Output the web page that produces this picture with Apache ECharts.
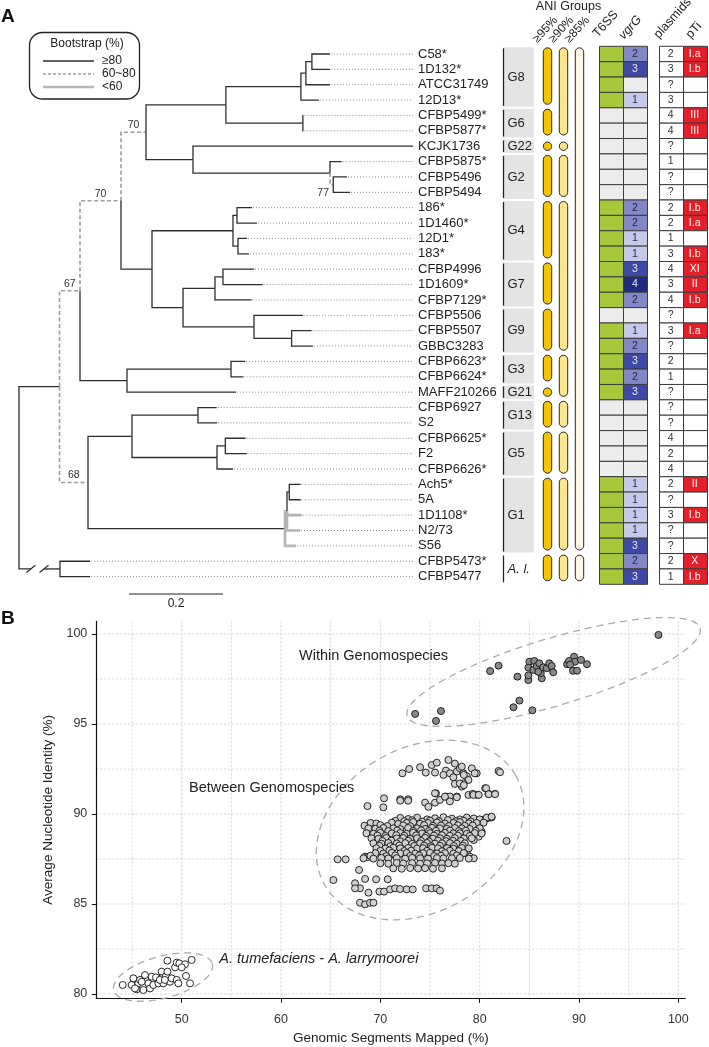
<!DOCTYPE html>
<html><head><meta charset="utf-8">
<script src="https://cdn.jsdelivr.net/npm/echarts@6/dist/echarts.min.js"></script>
<style>html,body{margin:0;padding:0;background:#fff}#c{width:709px;height:1047px}</style>
</head><body><div id="c"></div>
<script>
// ---------------- DATA ----------------
const strains = ['C58*','1D132*','ATCC31749','12D13*','CFBP5499*','CFBP5877*','KCJK1736','CFBP5875*','CFBP5496','CFBP5494','186*','1D1460*','12D1*','183*','CFBP4996','1D1609*','CFBP7129*','CFBP5506','CFBP5507','GBBC3283','CFBP6623*','CFBP6624*','MAFF210266','CFBP6927','S2','CFBP6625*','F2','CFBP6626*','Ach5*','5A','1D1108*','N2/73','S56','CFBP5473*','CFBP5477'];
const t6ss = [1,1,1,1,0,0,0,0,0,0,1,1,1,1,1,1,1,0,1,1,1,1,1,0,0,0,0,0,1,1,1,1,1,1,1];
const vgrG = [2,3,0,1,0,0,0,0,0,0,2,2,1,1,3,4,2,0,1,2,3,2,3,0,0,0,0,0,1,1,1,1,3,2,3];
const plasmids = ['2','3','?','3','4','4','?','1','?','?','2','2','1','3','4','3','4','?','3','?','2','1','?','?','?','4','2','4','2','?','3','?','?','2','1'];
const pTi = ['I.a','I.b','','','III','III','','','','','I.b','I.a','','I.b','XI','II','I.b','','I.a','','','','','','','','','','II','','I.b','','','X','I.b'];
const groups = [['G8',0,3],['G6',4,5],['G22',6,6],['G2',7,9],['G4',10,13],['G7',14,16],['G9',17,19],['G3',20,21],['G21',22,22],['G13',23,24],['G5',25,27],['G1',28,32],['A. l.',33,34]];
const ani95 = [[0,3],[4,5],[6,6],[7,9],[10,13],[14,16],[17,19],[20,21],[22,22],[23,24],[25,27],[28,32],[33,34]];
const ani90 = [[0,5],[6,6],[7,9],[10,19],[20,22],[23,24],[25,27],[28,32],[33,34]];
const ani85 = [[0,32],[33,34]];
const aniCols = ['≥95%','≥90%','≥85%'];
const tableCols1 = ['T6SS','vgrG'];
const tableCols2 = ['plasmids','pTi'];
// tree: l = branch length (substitutions/site), s = bootstrap support (undefined = >=80)
const tree = {c:[
  {l:0.0862, c:[
    {l:0.0436, s:67, c:[
      {l:0.0872, s:70, c:[
        {l:0.0532, s:70, c:[
          {l:0.170, c:[
            {l:0.1596, c:[
              {l:0.0106, c:[
                {l:0.0128, c:[{n:'C58*',l:0.0383},{n:'1D132*',l:0.0383}]},
                {n:'ATCC31749',l:0.0511}]},
              {n:'12D13*',l:0.0383}]},
            {l:0.1638, c:[{n:'CFBP5499*',l:0.001},{n:'CFBP5877*',l:0.001}]}]},
          {l:0.1, c:[
            {n:'KCJK1736',l:0.468},
            {l:0.2915, c:[
              {n:'CFBP5875*',l:0.0249},
              {l:0.007, s:77, c:[{n:'CFBP5496',l:0.0291},{n:'CFBP5494',l:0.0355}]}]}]}]},
        {l:0.066, c:[
          {l:0.1723, c:[
            {l:0.0085, c:[{n:'186*',l:0.0319},{n:'1D1460*',l:0.0426}]},
            {l:0.0106, c:[{n:'12D1*',l:0.0191},{n:'183*',l:0.0234}]}]},
          {l:0.066, c:[
            {l:0.068, c:[
              {l:0.017, c:[{n:'CFBP4996',l:0.066},{n:'1D1609*',l:0.0845}]},
              {n:'CFBP7129*',l:0.078}]},
            {l:0.151, c:[
              {n:'CFBP5506',l:0.104},
              {l:0.080, c:[{n:'CFBP5507',l:0.0426},{n:'GBBC3283',l:0.0453}]}]}]}]}]},
      {l:0.1, c:[
        {l:0.2213, c:[{n:'CFBP6623*',l:0.0298},{n:'CFBP6624*',l:0.0262}]},
        {n:'MAFF210266',l:0.2319}]}]},
    {l:0.0606, s:68, c:[
      {l:0.0936, c:[
        {l:0.1404, c:[{n:'CFBP6927',l:0.0398},{n:'S2',l:0.0411}]},
        {l:0.1809, c:[
          {l:0.0177, c:[{n:'CFBP6625*',l:0.043},{n:'F2',l:0.0455}]},
          {n:'CFBP6626*',l:0.034}]}]},
      {l:0.4191, c:[
        {l:0.0043, s:'<60', c:[
          {l:0.0049, c:[{n:'Ach5*',l:0.0243},{n:'5A',l:0.0243}]},
          {n:'1D1108*',l:0.0313,s:'<60'},
          {n:'N2/73',l:0.0277,s:'<60'}]},
        {n:'S56',l:0.0234,s:'<60'}]}]}]},
  {l:0.0872, broken:true, c:[{n:'CFBP5473*',l:0.0638},{n:'CFBP5477',l:0.0638}]}
]};
const scaleBar = [[0.234, 35.13, 0.2]];

// Panel B
const withinGS = [[73.5,95.56],[75.6,95.17],[76.1,95.72],[81.05,97.94],[81.9,98.24],[83.4,95.93],[84.0,96.3],[85.3,95.76],[83.8,97.63],[84.9,97.44],[84.9,97.7],[85.0,98.46],[85.5,98.5],[84.9,98.13],[85.4,98.0],[85.75,98.22],[86.0,98.37],[86.25,97.54],[86.15,97.82],[85.9,97.9],[86.4,98.15],[86.75,98.1],[87.0,98.37],[87.25,98.22],[87.4,97.87],[88.8,98.32],[89.0,98.5],[89.5,98.74],[89.6,98.46],[89.4,97.96],[89.8,97.96],[90.2,98.56],[90.8,98.32],[89.1,98.3],[98.0,99.95]];
const betweenSparse = [[72.22,92.26],[72.9,92.5],[74.0,92.6],[74.57,92.3],[75.17,92.72],[75.68,92.85],[75.5,92.3],[76.85,93.0],[77.5,92.8],[76.6,92.41],[76.35,92.17],[77.0,92.26],[77.35,92.04],[77.7,92.36],[78.0,92.54],[78.36,92.26],[78.7,92.1],[79.2,92.54],[79.7,92.26],[78.87,91.89],[77.5,91.67],[78.36,91.7],[78.2,91.52],[81.9,92.39],[82.05,92.32],[80.55,91.43],[80.88,91.12],[81.55,91.12],[75.6,91.15],[76.6,90.97],[77.0,90.97],[77.7,90.97],[78.87,91.06],[79.3,91.12],[79.77,91.06],[70.37,90.87],[72.0,90.82],[72.8,90.82],[78.2,92.63],[78.4,92.17],[78.0,91.7],[78.4,91.6],[79.5,92.26],
 [68.7,90.44],[70.3,90.37],[72.0,90.74],[72.8,90.74],[74.5,90.63],[74.84,90.4],[75.5,90.63],[75.5,91.15],[76.0,90.78],[76.5,90.96],[77.0,90.7],[77.7,90.93],[79.37,91.06],[79.9,91.06],[80.65,91.43],[80.9,91.1],[81.55,91.1],[82.7,88.5],[81.0,89.8],[80.3,89.67],
 [65.7,87.48],[66.5,87.48],[65.27,86.33],[67.85,86.89],[68.46,87.63],[68.7,87.6],[67.45,86.15],[67.95,85.87],[67.45,85.87],[68.8,85.63],[68.46,86.39],[69.57,86.37],[70.74,86.37],[69.9,85.69],[70.37,85.69],[70.98,85.81],[71.48,85.87],[71.98,85.83],[72.65,85.81],[73.26,85.81],[74.6,85.87],[75.17,85.87],[75.67,85.87],[76.0,85.74],[67.95,85.07],[68.46,84.98],[68.96,85.07],[69.3,85.07],
 [79.4,89.57],[80.0,89.48],[80.2,89.02],[79.9,88.74],[79.4,88.55],[78.7,87.81],[79.0,87.63],[79.4,87.54],[80.7,89.76],[81.2,89.81]];
const betweenCore = [[72.0,89.78],[72.8,89.72],[73.7,89.8],[74.7,89.7],[75.5,89.76],[76.35,89.82],[77.2,89.74],[78.0,89.7],[78.7,89.8],[79.4,89.75],[80.0,89.7],[80.7,89.8],[81.2,89.85],
 [71.5,89.62],[72.4,89.6],[73.2,89.65],[74.2,89.58],[75.0,89.63],[75.9,89.6],[76.8,89.66],[77.6,89.6],[78.4,89.62],[79.1,89.58],
 [69.0,89.5],[69.6,89.47],[71.15,89.52],[71.8,89.45],[72.65,89.5],[73.3,89.55],[74.0,89.46],[74.8,89.5],[75.7,89.53],[76.5,89.47],[77.35,89.5],[78.0,89.55],[78.9,89.48],[79.7,89.5],[80.4,89.52],
 [68.4,89.35],[70.0,89.38],[70.7,89.33],[72.3,89.36],[73.0,89.32],[74.4,89.38],[75.3,89.34],[76.1,89.36],[76.9,89.33],[77.8,89.37],[78.5,89.34],[79.3,89.36],
 [68.8,89.2],[69.5,89.18],[70.3,89.22],[71.3,89.2],[72.0,89.16],[72.8,89.22],[73.7,89.2],[74.5,89.17],[75.2,89.23],[76.0,89.2],[76.7,89.18],[77.5,89.22],[78.2,89.2],[79.0,89.17],[80.0,89.21],
 [69.9,89.07],[70.8,89.05],[71.7,89.08],[73.3,89.06],[74.1,89.09],[74.9,89.05],[75.6,89.07],[77.0,89.08],[77.9,89.05],[78.6,89.07],[79.6,89.06],
 [68.6,88.93],[69.3,88.9],[70.0,88.95],[71.15,88.92],[72.0,88.94],[72.65,88.9],[73.3,88.96],[74.2,88.92],[75.0,88.93],[75.7,88.9],[76.5,88.95],[77.35,88.92],[78.0,88.93],[78.7,88.9],[79.5,88.94],[80.2,88.92],
 [69.7,88.8],[70.5,88.78],[71.6,88.82],[72.4,88.79],[73.6,88.81],[74.6,88.78],[75.4,88.8],[76.2,88.82],[77.0,88.79],[77.8,88.8],[79.0,88.78],
 [69.1,88.65],[69.8,88.62],[70.6,88.67],[71.65,88.64],[72.3,88.66],[73.0,88.62],[73.7,88.65],[74.5,88.67],[75.3,88.63],[76.0,88.65],[76.7,88.62],[77.5,88.66],[78.4,88.64],[79.2,88.65],
 [70.2,88.5],[71.1,88.52],[72.0,88.48],[72.8,88.51],[74.1,88.5],[74.9,88.48],[75.8,88.52],[76.6,88.49],[77.3,88.51],[78.1,88.5],
 [69.3,88.37],[70.1,88.35],[70.8,88.39],[71.65,88.36],[72.5,88.38],[73.2,88.34],[74.0,88.37],[74.7,88.39],[75.5,88.35],[76.2,88.37],[77.0,88.38],[77.7,88.35],[78.5,88.37],
 [69.9,88.23],[71.0,88.21],[71.9,88.25],[73.4,88.22],[74.4,88.24],[75.1,88.21],[76.0,88.23],[77.4,88.22],[78.3,88.24],
 [69.6,88.1],[70.5,88.08],[71.3,88.12],[72.0,88.09],[72.8,88.11],[73.7,88.08],[74.3,88.1],[75.2,88.12],[75.8,88.09],[76.7,88.1],[77.35,88.07],[78.2,88.11],[78.9,88.09],
 [70.0,87.95],[70.9,87.97],[72.4,87.94],[73.1,87.96],[74.7,87.95],[76.2,87.93],[77.0,87.96],[77.9,87.94],
 [69.5,87.82],[70.3,87.8],[71.15,87.84],[72.0,87.81],[72.65,87.83],[73.5,87.8],[74.3,87.82],[75.0,87.84],[75.7,87.81],[76.5,87.82],[77.35,87.8],[78.4,87.83],
 [69.0,87.68],[70.6,87.66],[71.5,87.7],[73.0,87.67],[73.9,87.69],[75.4,87.66],[76.1,87.68],[77.7,87.7],
 [68.3,87.54],[69.3,87.52],[70.1,87.56],[70.8,87.53],[71.65,87.55],[72.5,87.52],[73.2,87.56],[74.0,87.54],[74.8,87.52],[75.7,87.55],[76.35,87.53],[77.2,87.54],[78.0,87.56],[78.9,87.52],
 [70.0,87.26],[70.8,87.24],[71.65,87.28],[72.3,87.25],[73.2,87.27],[74.0,87.24],[74.7,87.26],[75.5,87.28],[76.2,87.25],[76.85,87.27],[77.5,87.24],
 [71.3,86.98],[72.15,86.96],[73.0,87.0],[73.8,86.97],[74.5,86.99],[75.3,86.96],[76.2,86.98]];
const tumLar = [[44.06,80.5],[44.96,80.5],[45.13,80.87],[45.47,80.26],[45.63,80.59],[46.14,80.22],[46.3,80.87],[46.3,81.05],[46.64,80.59],[46.81,80.31],[46.98,80.96],[47.14,80.5],[47.41,80.92],[47.65,80.59],[47.98,81.24],[47.98,80.87],[48.15,80.59],[48.42,81.0],[48.56,81.24],[48.56,81.85],[48.82,80.68],[48.99,80.87],[49.33,81.48],[49.5,81.74],[49.5,80.78],[49.76,81.7],[49.66,80.59],[50.33,81.65],[50.43,81.0],[50.84,80.59],[51.0,81.89],[50.0,81.48],[45.8,80.78],[45.3,80.31],[45.97,80.68],[47.8,80.78],[48.3,80.78]];
// ellipses: centre, end of major axis (data units), minor/major ratio
const ellipses = [[[87.44,97.89],[102.19,100.33],0.22],[[74.0,89.11],[83.6,92.17],0.745],[[48.12,80.94],[53.08,81.68],0.41]];
const annotations = [[61.81,98.78,'Within Genomospecies',0],[50.73,91.44,'Between Genomospecies',0],[53.79,81.93,'A. tumefaciens - A. larrymoorei',1]];
const xTicks = [50,60,70,80,90,100];
const yTicks = [80,85,90,95,100];
const xGrid = [45,50,55,60,65,70,75,80,85,90,95,100];
const yGrid = [80,82.5,85,87.5,90,92.5,95,97.5,100];

// ---------------- LAYOUT ----------------
const FONT = '"Liberation Sans", Arial, sans-serif';
const PXU = 470;            // px per tree unit
const TREE_L = 19, LABEL_X = 418;
const ROW_TOP = 46.3, ROW_H = 538;
const SX = [41.4, 100.7], SY = [79.76, 100.7];

// tree layout
const leaves = [], segs = [];
(function lay(node, x){
  node.x = x;
  if (node.n){ node.y = leaves.length; leaves.push(node); return; }
  node.c.forEach(ch => lay(ch, x + ch.l));
  node.y = (node.c[0].y + node.c[node.c.length-1].y)/2;
})(tree, 0);
(function col(node){ if(node.c) node.c.forEach(ch => { segs.push({x0:node.x,y0:node.y,x1:ch.x,y1:ch.y,s:ch.s,broken:ch.broken}); col(ch); }); })(tree);

function brStyle(s){
  if (s === '<60') return {stroke:'#b5b5b5', lineWidth:2.6, fill:null};
  if (typeof s === 'number' && s < 80) return {stroke:'#9e9e9e', lineWidth:1.6, lineDash:[4,2.5], fill:null};
  return {stroke:'#2e2e2e', lineWidth:1.3, fill:null};
}

const chart = echarts.init(document.getElementById('c'), null, {renderer:'canvas', width:709, height:1047});
const hidY = i => ({gridIndex:i, type:'value', min:-0.5, max:34.5, inverse:true, show:false});

const aniData = [];
[ani95, ani90, ani85].forEach((arr, ci) => arr.forEach(r => aniData.push([ci, r[0], r[1]])));
const cells1 = [], cells2 = [];
strains.forEach((s, i) => { cells1.push([0,i],[1,i]); cells2.push([0,i],[1,i]); });
const vgColors = ['#ececec','#c6c9e9','#8288c5','#3e49a6','#1f2a80'];
const vgText = ['','#2a2a4a','#1c1f4a','#e8e8f4','#e8e8f4'];

const option = {
  animation:false,
  backgroundColor:'#fff',
  textStyle:{fontFamily:FONT},
  grid:[
    {left:TREE_L, top:ROW_TOP, width:LABEL_X-TREE_L, height:ROW_H},
    {left:539.5, top:ROW_TOP, width:48, height:ROW_H},
    {left:599, top:ROW_TOP, width:48, height:ROW_H},
    {left:658.7, top:ROW_TOP, width:48, height:ROW_H},
    {left:96.3, top:621.4, width:589, height:376.9}
  ],
  xAxis:[
    {gridIndex:0, type:'value', min:0, max:(LABEL_X-TREE_L)/PXU, show:false},
    {gridIndex:1, type:'category', data:aniCols, show:false},
    {gridIndex:2, type:'category', data:tableCols1, show:false},
    {gridIndex:3, type:'category', data:tableCols2, show:false},
    {gridIndex:4, type:'value', min:SX[0], max:SX[1],
     axisLine:{show:true, onZero:false, lineStyle:{color:'#111', width:1.2}},
     axisTick:{show:true, length:4.5, customValues:xTicks, lineStyle:{color:'#111'}},
     axisLabel:{customValues:xTicks, fontSize:12.5, color:'#333', margin:15, fontFamily:FONT},
     splitLine:{show:false},
     name:'Genomic Segments Mapped (%)', nameLocation:'middle', nameGap:33,
     nameTextStyle:{fontSize:13.5, color:'#222', fontFamily:FONT}}
  ],
  yAxis:[
    hidY(0), hidY(1), hidY(2), hidY(3),
    {gridIndex:4, type:'value', min:SY[0], max:SY[1],
     axisLine:{show:true, onZero:false, lineStyle:{color:'#111', width:1.2}},
     axisTick:{show:true, length:4.5, customValues:yTicks, lineStyle:{color:'#111'}},
     axisLabel:{customValues:yTicks, fontSize:12.5, color:'#333', margin:9, fontFamily:FONT},
     splitLine:{show:false},
     name:'Average Nucleotide Identity (%)', nameLocation:'middle', nameGap:28,
     nameTextStyle:{fontSize:13.5, color:'#222', fontFamily:FONT}}
  ],
  series:[
    // tree branches
    {type:'custom', xAxisIndex:0, yAxisIndex:0, silent:true, z:3,
     data:segs.map(s=>[s.x0,s.y0,s.x1,s.y1]),
     renderItem(params, api){
       const sg = segs[params.dataIndex];
       const p0 = api.coord([sg.x0, sg.y0]), pm = api.coord([sg.x0, sg.y1]), p1 = api.coord([sg.x1, sg.y1]);
       const st = brStyle(sg.s);
       const ch = [];
       if (sg.broken){
         const L = p1[0]-pm[0], a = pm[0]+L*0.29, b = pm[0]+L*0.61;
         ch.push({type:'polyline', shape:{points:[p0,pm,[a,pm[1]]]}, style:st});
         ch.push({type:'line', shape:{x1:b,y1:p1[1],x2:p1[0],y2:p1[1]}, style:st});
         [a,b].forEach(cx => ch.push({type:'line', shape:{x1:cx-4.5,y1:p1[1]+3.6,x2:cx+4.5,y2:p1[1]-3.6}, style:{stroke:'#2e2e2e', lineWidth:1.2}}));
       } else {
         ch.push({type:'polyline', shape:{points:[p0,pm,p1]}, style:st});
       }
       if (typeof sg.s === 'number'){
         const L = p1[0]-pm[0];
         if (L >= 12) ch.push({type:'text', x:(pm[0]+p1[0])/2, y:p1[1]-1.5, style:{text:String(sg.s), font:'10.5px '+FONT, fill:'#333', align:'center', verticalAlign:'bottom'}});
         else ch.push({type:'text', x:pm[0]-1, y:p1[1]+8, style:{text:String(sg.s), font:'10.5px '+FONT, fill:'#333', align:'right', verticalAlign:'middle'}});
       }
       return {type:'group', children:ch};
     }},
    // leaf leaders + labels
    {type:'custom', xAxisIndex:0, yAxisIndex:0, silent:true, z:2,
     data:leaves.map(l=>[l.x,l.y]),
     renderItem(params, api){
       const p = api.coord([api.value(0), api.value(1)]);
       const lx = params.coordSys.x + params.coordSys.width;
       const ch = [];
       if (lx-5 - p[0] > 1) ch.push({type:'line', shape:{x1:p[0]+1,y1:p[1],x2:lx-5,y2:p[1]}, style:{stroke:'#8a8a8a', lineWidth:1, lineDash:[1,2]}});
       ch.push({type:'text', x:lx, y:p[1], style:{text:leaves[params.dataIndex].n, font:'13px '+FONT, fill:'#1e1e1e', align:'left', verticalAlign:'middle'}});
       return {type:'group', children:ch};
     }},
    // scale bar
    {type:'custom', xAxisIndex:0, yAxisIndex:0, silent:true,
     data:scaleBar,
     renderItem(params, api){
       const a = api.coord([api.value(0), api.value(1)]), b = api.coord([api.value(0)+api.value(2), api.value(1)]);
       return {type:'group', children:[
         {type:'line', shape:{x1:a[0],y1:a[1],x2:b[0],y2:b[1]}, style:{stroke:'#222', lineWidth:1.2}},
         {type:'text', x:(a[0]+b[0])/2, y:a[1]+4, style:{text:String(api.value(2)), font:'12px '+FONT, fill:'#222', align:'center', verticalAlign:'top'}}]};
     }},
    // group brackets
    {type:'custom', xAxisIndex:0, yAxisIndex:0, silent:true, z:1,
     data:groups.map(g=>[g[1],g[2]]),
     renderItem(params, api){
       const g = groups[params.dataIndex];
       const h = api.size([0,1])[1];
       const top = api.coord([0,g[1]])[1] - h/2 + 2, bot = api.coord([0,g[2]])[1] + h/2 - 2;
       const gx = params.coordSys.x + params.coordSys.width + 85;
       const italic = g[0].indexOf('.') >= 0;
       const ch = [];
       if (!italic) ch.push({type:'rect', shape:{x:gx, y:top-1, width:31, height:bot-top+2}, style:{fill:'#e4e4e4'}});
       ch.push({type:'line', shape:{x1:gx+0.5,y1:top,x2:gx+0.5,y2:bot}, style:{stroke:'#222', lineWidth:1.3}});
       ch.push({type:'text', x:gx+4.5, y:(top+bot)/2, style:{text:g[0], font:(italic?'italic ':'')+'13px '+FONT, fill:'#1e1e1e', align:'left', verticalAlign:'middle'}});
       return {type:'group', children:ch};
     }},
    // ANI pills
    {type:'custom', xAxisIndex:1, yAxisIndex:1, silent:true,
     data:aniData,
     renderItem(params, api){
       const c = api.value(0), r1 = api.value(1), r2 = api.value(2);
       const h = api.size([0,1])[1];
       const cx = api.coord([c, r1])[0];
       const fills = ['#f6c300','#fde68c','#fdf6e4'];
       const w = 8.4;
       let top, bot;
       if (r1 === r2){ const cy = api.coord([c,r1])[1]; top = cy - w/2; bot = cy + w/2; }
       else { top = api.coord([c,r1])[1] - h/2 + 1.5; bot = api.coord([c,r2])[1] + h/2 - 3.5; }
       return {type:'rect', shape:{x:cx-w/2, y:top, width:w, height:bot-top, r:w/2}, style:{fill:fills[c], stroke:'#2a2a2a', lineWidth:1}};
     }},
    // T6SS / vgrG table
    {type:'custom', xAxisIndex:2, yAxisIndex:2, silent:true,
     data:cells1,
     renderItem(params, api){
       const c = api.value(0), r = api.value(1);
       const p = api.coord([c, r]), s = api.size([1,1]);
       const x = Math.round(p[0]-s[0]/2)+0.5, y = p[1]-s[1]/2;
       let fill, txt = '', tc = '#333';
       if (c === 0) fill = t6ss[r] ? '#a8c83c' : '#ececec';
       else { fill = vgColors[vgrG[r]]; if (vgrG[r]) { txt = String(vgrG[r]); tc = vgText[vgrG[r]]; } }
       const ch = [{type:'rect', shape:{x:x, y:y, width:Math.round(s[0]), height:s[1]}, style:{fill:fill, stroke:'#3c3c3c', lineWidth:1}}];
       if (txt) ch.push({type:'text', x:p[0], y:p[1], style:{text:txt, font:'10.5px '+FONT, fill:tc, align:'center', verticalAlign:'middle'}});
       return {type:'group', children:ch};
     }},
    // plasmids / pTi table
    {type:'custom', xAxisIndex:3, yAxisIndex:3, silent:true,
     data:cells2,
     renderItem(params, api){
       const c = api.value(0), r = api.value(1);
       const p = api.coord([c, r]), s = api.size([1,1]);
       const x = Math.round(p[0]-s[0]/2)+0.5, y = p[1]-s[1]/2;
       let fill = '#fff', txt, tc = '#333';
       if (c === 0) txt = plasmids[r];
       else { txt = pTi[r]; if (txt) { fill = '#e3202a'; tc = '#fff'; } }
       const ch = [{type:'rect', shape:{x:x, y:y, width:Math.round(s[0]), height:s[1]}, style:{fill:fill, stroke:'#3c3c3c', lineWidth:1}}];
       if (txt) ch.push({type:'text', x:p[0], y:p[1], style:{text:txt, font:'10.5px '+FONT, fill:tc, align:'center', verticalAlign:'middle'}});
       return {type:'group', children:ch};
     }},
    // scatter grid lines (x)
    {type:'custom', xAxisIndex:4, yAxisIndex:4, silent:true, z:0,
     data:xGrid.map(v=>[v]),
     renderItem(params, api){
       const x = api.coord([api.value(0), SY[0]])[0];
       const cs = params.coordSys;
       return {type:'line', shape:{x1:x,y1:cs.y,x2:x,y2:cs.y+cs.height}, style:{stroke:'#cfcfcf', lineWidth:0.9, lineDash:[2,2]}};
     }},
    {type:'custom', xAxisIndex:4, yAxisIndex:4, silent:true, z:0,
     data:yGrid.map(v=>[SX[0], v]),
     renderItem(params, api){
       const y = api.coord([SX[0], api.value(1)])[1];
       const cs = params.coordSys;
       return {type:'line', shape:{x1:cs.x,y1:y,x2:cs.x+cs.width,y2:y}, style:{stroke:'#cfcfcf', lineWidth:0.9, lineDash:[2,2]}};
     }},
    // ellipses
    {type:'custom', xAxisIndex:4, yAxisIndex:4, silent:true, z:1,
     data:ellipses.map(e=>[e[0][0],e[0][1],e[1][0],e[1][1],e[2]]),
     renderItem(params, api){
       const c = api.coord([api.value(0), api.value(1)]), m = api.coord([api.value(2), api.value(3)]);
       const ux = m[0]-c[0], uy = m[1]-c[1], k = api.value(4);
       const vx = -uy*k, vy = ux*k;
       const pts = [];
       for (let i=0;i<=96;i++){ const t = i/96*Math.PI*2; pts.push([c[0]+Math.cos(t)*ux+Math.sin(t)*vx, c[1]+Math.cos(t)*uy+Math.sin(t)*vy]); }
       return {type:'polyline', shape:{points:pts}, style:{stroke:'#a9a9a9', lineWidth:1.3, lineDash:[7,5], fill:null}};
     }},
    // annotations
    {type:'custom', xAxisIndex:4, yAxisIndex:4, silent:true, z:5,
     data:annotations.map(a=>[a[0],a[1]]),
     renderItem(params, api){
       const a = annotations[params.dataIndex];
       const p = api.coord([a[0], a[1]]);
       return {type:'text', x:p[0], y:p[1], style:{text:a[2], font:(a[3]?'italic ':'')+'14.5px '+FONT, fill:'#222', align:'left', verticalAlign:'middle'}};
     }},
    {type:'scatter', xAxisIndex:4, yAxisIndex:4, z:3, symbol:'circle', symbolSize:7, data:betweenSparse.concat(betweenCore),
     itemStyle:{color:'#d0d0d0', borderColor:'#111', borderWidth:0.9, opacity:1}},
    {type:'scatter', xAxisIndex:4, yAxisIndex:4, z:3, symbol:'circle', symbolSize:7, data:withinGS,
     itemStyle:{color:'#8a8a8a', borderColor:'#111', borderWidth:0.9, opacity:1}},
    {type:'scatter', xAxisIndex:4, yAxisIndex:4, z:3, symbol:'circle', symbolSize:7, data:tumLar,
     itemStyle:{color:'#ffffff', borderColor:'#111', borderWidth:0.9, opacity:1}}
  ]
};

// headers & legend (graphic)
const R = a => a*Math.PI/180;
const hdr = [];
function rot(text, x, y, italic, size){
  hdr.push({type:'text', x:x, y:y, rotation:R(48), silent:true,
    style:{text:text, font:(italic?'italic ':'')+(size||12)+'px '+FONT, fill:'#222', align:'left', verticalAlign:'bottom'}});
}
aniCols.forEach((t,i)=> rot(t, 539.5 + 16*(i+0.5) - 8, 45, false, 12));
rot('T6SS', 600, 40, false, 12.5);
rot('vgrG', 626, 42, true, 12.5);
rot('plasmids', 661, 41, false, 12.5);
rot('pTi', 693, 41, false, 12.5);
hdr.push({type:'text', x:568.5, y:7, silent:true, style:{text:'ANI Groups', font:'12.5px '+FONT, fill:'#222', align:'center', verticalAlign:'middle'}});
hdr.push({type:'text', x:1, y:17, silent:true, style:{text:'A', font:'bold 19px '+FONT, fill:'#111', align:'left', verticalAlign:'middle'}});
hdr.push({type:'text', x:1, y:619, silent:true, style:{text:'B', font:'bold 19px '+FONT, fill:'#111', align:'left', verticalAlign:'middle'}});
// bootstrap legend box
hdr.push({type:'rect', silent:true, shape:{x:29.5, y:32.5, width:110, height:66.5, r:13}, style:{fill:'#fff', stroke:'#222', lineWidth:1.3}});
hdr.push({type:'text', x:87, y:43.5, silent:true, style:{text:'Bootstrap (%)', font:'12px '+FONT, fill:'#222', align:'center', verticalAlign:'middle'}});
[['≥80', {stroke:'#2e2e2e', lineWidth:1.3}], ['60~80', {stroke:'#9e9e9e', lineWidth:1.6, lineDash:[3,2]}], ['<60', {stroke:'#b5b5b5', lineWidth:2.6}]].forEach((it,i)=>{
  const y = 61 + i*13;
  hdr.push({type:'line', silent:true, shape:{x1:43, y1:y, x2:94, y2:y}, style:it[1]});
  hdr.push({type:'text', x:102, y:y, silent:true, style:{text:it[0], font:'12px '+FONT, fill:'#222', align:'left', verticalAlign:'middle'}});
});
option.graphic = {elements:hdr};
chart.setOption(option);
</script></body></html>
